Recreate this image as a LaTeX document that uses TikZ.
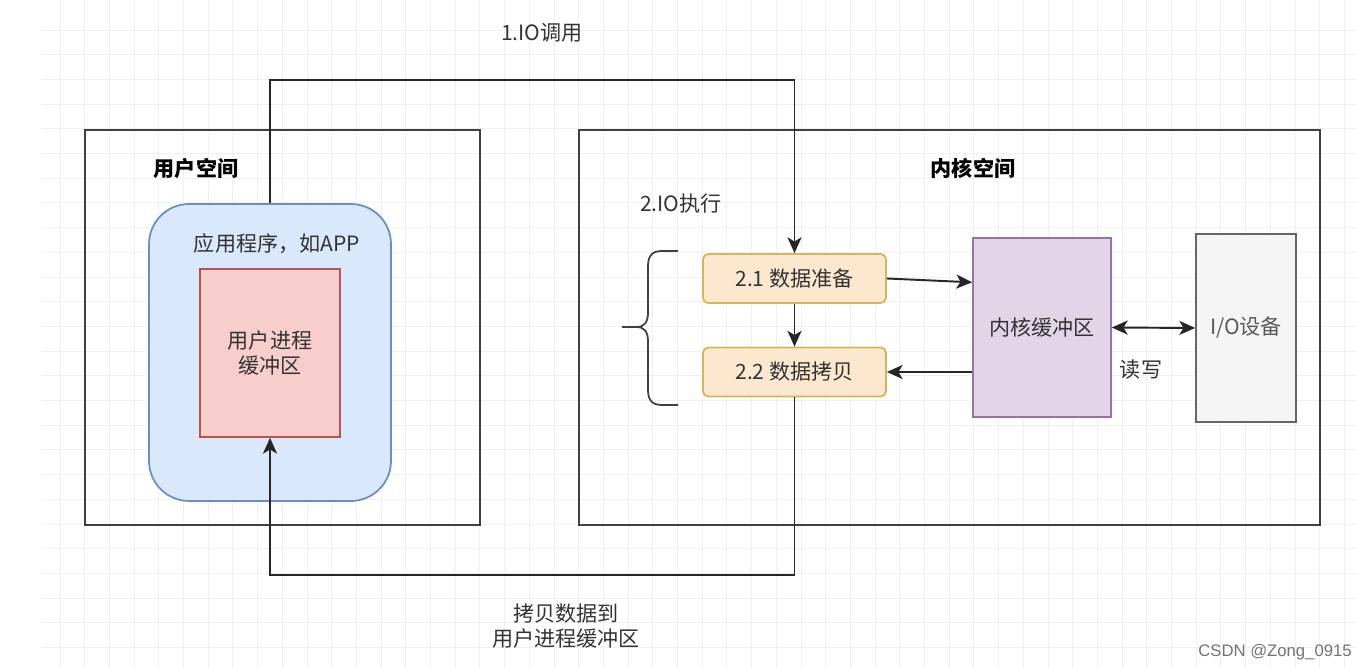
\documentclass[tikz,border=0pt]{standalone}
\usepackage{fontspec}
\setmainfont{Noto Sans CJK SC}
\newfontfamily\wmfont{Liberation Sans}
\usetikzlibrary{arrows.meta, positioning, calc}
\definecolor{appblue}{HTML}{DAE8FC}
\definecolor{appblueline}{HTML}{6C8EBF}
\definecolor{bufred}{HTML}{F8CECC}
\definecolor{bufredline}{HTML}{B85450}
\definecolor{phasefill}{HTML}{FCE8CF}
\definecolor{phaseline}{HTML}{D6B656}
\definecolor{kpurple}{HTML}{E1D5E7}
\definecolor{kpurpleline}{HTML}{9673A6}
\definecolor{devgray}{HTML}{F5F5F5}
\definecolor{devgrayline}{HTML}{666666}
\definecolor{gridline}{HTML}{F0F0F0}
\definecolor{txt}{HTML}{333333}
\tikzset{
  spacebox/.style={draw=black!75, line width=1.3pt, minimum width=#1,
                   minimum height=7.9cm, inner sep=0pt},
  lbl/.style={font=\fontsize{12}{14.5}\selectfont, text=txt, align=center},
  phase/.style={draw=phaseline, fill=phasefill, rounded corners=3pt,
                minimum width=3.66cm, minimum height=0.98cm, line width=1pt, lbl},
  arr/.style={-{Stealth[length=9pt, width=8pt, inset=2.4pt]}, line width=1.1pt, black!85},
  arrboth/.style={{Stealth[length=9pt, width=8pt, inset=2.4pt]}-{Stealth[length=9pt, width=8pt, inset=2.4pt]},
                  line width=1.1pt, black!85},
}
\begin{document}
\begin{tikzpicture}[x=0.02cm, y=-0.02cm]
  \useasboundingbox[fill=white] (0,0) rectangle (1356,668);

  % grid
  \foreach \gx in {60,84.7,...,1356} \draw[gridline, line width=0.5pt] (\gx,0) -- (\gx,668);
  \foreach \gy in {30,54.7,...,668} \draw[gridline, line width=0.5pt] (42,\gy) -- (1356,\gy);

  % spaces
  \node[spacebox=7.9cm] (user) at (282.5,327.5) {};
  \node[spacebox=14.82cm] (kernel) at (949.5,327.5) {};
  \node[lbl, font=\fontsize{12}{14.5}\selectfont\bfseries, text=black] (userlbl) at (196,168) {用户空间};
  \node[lbl, font=\fontsize{12}{14.5}\selectfont\bfseries, text=black] (kernellbl) at (973,168) {内核空间};

  % application
  \node[draw=appblueline, fill=appblue, rounded corners=0.8cm, line width=1pt,
        minimum width=4.84cm, minimum height=5.94cm] (app) at (270,352.5) {};
  \node[lbl] (applbl) at (277,244) {应用程序，如APP};
  \node[draw=bufredline, fill=bufred, line width=1pt, minimum width=2.8cm,
        minimum height=3.36cm, lbl] (ubuf) at (270,353) {用户进程\\缓冲区};

  % kernel side
  \node[lbl] (execlbl) at (681,204) {2.IO执行};
  \node[phase] (prep) at (794.5,278.5) {2.1 数据准备};
  \node[phase] (copy) at (794.5,372) {2.2 数据拷贝};
  \node[draw=kpurpleline, fill=kpurple, line width=1pt, minimum width=2.76cm,
        minimum height=3.58cm, lbl] (kbuf) at (1042,327.5) {内核缓冲区};
  \node[draw=devgrayline, fill=devgray, line width=1pt, minimum width=2cm,
        minimum height=3.76cm, lbl, text=black!65] (iodev) at (1246,328) {I/O设备};
  \node[lbl] (rwlbl) at (1141,370) {读写};

  % brace
  \draw[black!75, line width=1pt]
    (678,251) -- (662,251) .. controls (652,251) and (648,256) .. (648,266) -- (648,312)
    .. controls (648,322) and (645,327) .. (636,327) -- (622,327)
    (636,327) .. controls (645,327) and (648,332) .. (648,342) -- (648,390)
    .. controls (648,400) and (652,405) .. (662,405) -- (678,405);

  % calls
  \coordinate (calltop) at (794.5,80);
  \coordinate (copybot) at (794.5,575);
  \node[lbl] (calllbl) at (542,33) {1.IO调用};
  \node[lbl, align=center] (backlbl) at (566,626) {拷贝数据到\\用户进程缓冲区};
  \draw[arr] (app.north) |- (calltop) -- (prep.north);
  \draw[arr] (prep.south) -- (copy.north);
  \draw[arr] (prep.east) -- ($(kbuf.north west)!0.25!(kbuf.south west)$);
  \draw[arr] (kbuf.west |- copy.east) -- (copy.east);
  \draw[arrboth] (kbuf.east) -- (iodev.west);
  \draw[arr] (copy.south) -- (copybot) -| (ubuf.south);

  % watermark
  \node[font=\wmfont\fontsize{9.5}{11}\selectfont, text=black!55] (mark) at (1275,652) {CSDN @Zong\_0915};
\end{tikzpicture}
\end{document}
